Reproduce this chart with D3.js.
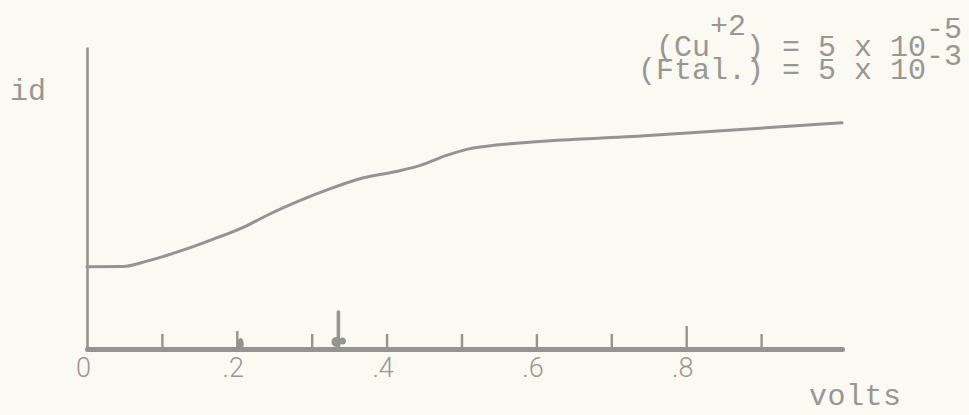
<!DOCTYPE html>
<html>
<head>
<meta charset="utf-8">
<script src="https://cdn.jsdelivr.net/npm/d3@7"></script>
<style>
  html, body { margin: 0; padding: 0; background: #fafaf3; }
  svg { display: block; }
</style>
</head>
<body>
<svg id="chart" width="969" height="415"></svg>
<script>
// Polarographic wave: diffusion current (id) against applied potential (volts)
const volts    = [0, 0.048, 0.080, 0.124, 0.168, 0.213, 0.240, 0.284, 0.324, 0.368, 0.413, 0.445, 0.480, 0.507, 0.525, 0.750, 1.008];
const idValues = [2.72, 2.73, 2.91, 3.24, 3.63, 4.08, 4.42, 4.91, 5.30, 5.66, 5.88, 6.08, 6.41, 6.61, 6.69, 7.07, 7.49];

// Axis graduations every 0.1 V, labels every 0.2 V
const tickValues  = [0.1, 0.2, 0.3, 0.4, 0.5, 0.6, 0.7, 0.8, 0.9];
const labelValues = [0, 0.2, 0.4, 0.6, 0.8];
const labelTexts  = ["0", ".2", ".4", ".6", ".8"];

// Pen marks on the potential axis
const penMarks = [0.205, 0.333];

// Concentrations noted on the chart
const concLabels = ["(Cu", "(Ftal.)"];
const concCharge = ["+2", ""];
const concValues = ["5 x 10", "5 x 10"];
const concExps   = ["-5", "-3"];

const ink = "#949491";
const textInk = "#979795";
const typeFont = "'Liberation Mono', monospace";

const svg = d3.select("#chart");

const x = d3.scaleLinear().domain([0, 1.008]).range([87, 842]);
const y = d3.scaleLinear().domain([0, 10]).range([349, 47]);

// Vertical (current) axis: a bare line
const yAxis = svg.append("g")
  .attr("transform", `translate(${x(0)},0)`)
  .call(d3.axisLeft(y).tickValues([]).tickSizeOuter(0));
yAxis.select(".domain").attr("stroke", ink).attr("stroke-width", 2.6);

// Horizontal (potential) axis with upward graduations
const xAxis = svg.append("g")
  .attr("transform", `translate(0,${y(0)})`)
  .call(d3.axisBottom(x).tickValues(tickValues).tickFormat("").tickSizeInner(-15).tickSizeOuter(0));
xAxis.select(".domain").attr("stroke", ink).attr("stroke-width", 5).attr("stroke-linecap", "round");
xAxis.selectAll(".tick line").attr("stroke", ink).attr("stroke-width", 2.4)
  .attr("y2", d => Math.abs(d - 0.8) < 1e-9 ? -23 : (Math.abs(d - 0.2) < 1e-9 ? -18 : -15));

// Tick labels below the axis
const xLabels = svg.append("g")
  .attr("transform", `translate(0,${y(0)})`)
  .call(d3.axisBottom(x).tickValues(labelValues).tickFormat((d, i) => labelTexts[i]).tickSize(0).tickPadding(9));
xLabels.select(".domain").remove();
xLabels.selectAll("text")
  .attr("fill", textInk)
  .attr("dx", -4)
  .style("font-family", "Roboto, 'Liberation Sans', sans-serif")
  .style("font-weight", 300)
  .style("font-size", "27px");

// Pen marks
penMarks.forEach((v, i) => {
  const g = svg.append("g").attr("fill", ink).attr("stroke", ink);
  if (i === 1) {
    g.append("line").attr("x1", x(v) + 2).attr("x2", x(v) + 2)
      .attr("y1", y(0) - 37).attr("y2", y(0) - 2).attr("stroke-width", 3.5).attr("stroke-linecap", "round");
    g.append("circle").attr("cx", x(v)).attr("cy", y(0) - 7).attr("r", 5).attr("stroke", "none");
    g.append("circle").attr("cx", x(v) + 6).attr("cy", y(0) - 8).attr("r", 3.5).attr("stroke", "none");
  } else {
    g.append("ellipse").attr("cx", x(v)).attr("cy", y(0) - 5).attr("rx", 3.2).attr("ry", 6).attr("stroke", "none");
  }
});

// Current-voltage curve
const line = d3.line()
  .x((d, i) => x(volts[i]))
  .y(d => y(d))
  .curve(d3.curveMonotoneX);
svg.append("path")
  .datum(idValues)
  .attr("d", line)
  .attr("fill", "none")
  .attr("stroke", ink)
  .attr("stroke-width", 3)
  .attr("stroke-linejoin", "round")
  .attr("stroke-linecap", "round");

// Axis titles
const typeText = sel => sel.attr("fill", textInk)
  .style("font-family", typeFont).style("font-size", "30px");

svg.append("text").attr("x", 10).attr("y", 100).text("id").call(typeText);
svg.append("text").attr("x", 809).attr("y", 405).attr("letter-spacing", 0.5).text("volts").call(typeText);

// Concentration notes, right aligned
const baselines = [56, 79];
const chargeShift = [-21, 0];
const expShift = [-18, -14];
concLabels.forEach((lab, i) => {
  const t = svg.append("text").attr("x", 962).attr("y", baselines[i]).attr("text-anchor", "end").call(typeText);
  t.append("tspan").text(lab);
  if (concCharge[i]) {
    t.append("tspan").attr("dy", chargeShift[i]).text(concCharge[i]);
    t.append("tspan").attr("dy", -chargeShift[i]).text(")");
  }
  t.append("tspan").text(" = " + concValues[i]);
  t.append("tspan").attr("dy", expShift[i]).text(concExps[i]);
});
</script>
</body>
</html>
